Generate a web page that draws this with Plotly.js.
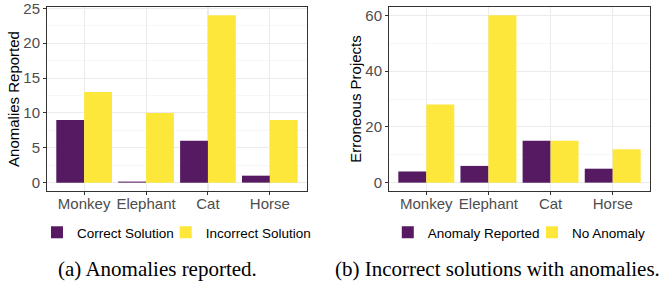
<!DOCTYPE html>
<html><head><meta charset="utf-8">
<script src="https://cdn.plot.ly/plotly-3.0.1.min.js"></script>
<style>html,body{margin:0;padding:0;background:#fff}</style></head>
<body><div id="chart" style="width:662px;height:285px"></div>
<script>
const categories = ['Monkey', 'Elephant', 'Cat', 'Horse'];
// (a) Anomalies reported
const correctSolution = [9, 0.15, 6, 1];
const incorrectSolution = [13, 10, 24, 9];
// (b) Incorrect solutions with anomalies
const anomalyReported = [4, 6, 15, 5];
const noAnomaly = [28, 60, 15, 12];
const leftTickVals = [0, 5, 10, 15, 20, 25];
const rightTickVals = [0, 20, 40, 60];
const captionA = '(a) Anomalies reported.';
const captionB = '(b) Incorrect solutions with anomalies.';

const PURPLE = '#561A62';
const YELLOW = '#FDE73B';
const W = 662, H = 285;
const sans = 'Liberation Sans, Arial, sans-serif';
const serif = 'Liberation Serif, Times New Roman, serif';

function bar(name, y, color, xa, ya, leg) {
  return {type: 'bar', name: name, x: categories, y: y, xaxis: xa, yaxis: ya, showlegend: true,
    marker: {color: color, line: {width: 0}}, legend: leg, hoverinfo: 'skip'};
}
const data = [
  bar('Correct Solution', correctSolution, PURPLE, 'x', 'y', 'legend'),
  bar('Incorrect Solution', incorrectSolution, YELLOW, 'x', 'y', 'legend2'),
  bar('Anomaly Reported', anomalyReported, PURPLE, 'x2', 'y2', 'legend3'),
  bar('No Anomaly', noAnomaly, YELLOW, 'x2', 'y2', 'legend4')
];

const tickFont = {family: sans, size: 15, color: '#4D4D4D'};
const titleFont = {family: sans, size: 15, color: '#000000'};
function xax(dom, anchor) {
  return {domain: dom, anchor: anchor, type: 'category', range: [-0.6, 3.6], showline: true, mirror: true,
    linecolor: '#333333', linewidth: 1, ticks: 'outside', ticklen: 3, tickcolor: '#333333',
    showgrid: true, gridcolor: '#EBEBEB', gridwidth: 1.1, tickfont: tickFont, fixedrange: true,
    ticklabelstandoff: -4, automargin: false};
}
function yax(dom, anchor, range, vals, minorStep, title, standoff) {
  return {domain: dom, anchor: anchor, range: range, tickvals: vals, showline: true, mirror: true,
    linecolor: '#333333', linewidth: 1, ticks: 'outside', ticklen: 3, tickcolor: '#333333',
    showgrid: true, gridcolor: '#EBEBEB', gridwidth: 1.1, zeroline: false, tickfont: tickFont,
    ticklabeloverflow: 'allow',
    minor: {dtick: minorStep, tick0: 0, showgrid: true, gridcolor: '#F2F2F2', gridwidth: 0.6, ticks: ''},
    title: {text: title, font: titleFont, standoff: standoff}, fixedrange: true, automargin: false};
}
function leg(symbolCenterX) {
  return {visible: true, orientation: 'h', x: (symbolCenterX - 23) / W, xanchor: 'left', y: (H - 232.5) / H, yanchor: 'middle',
    font: {family: sans, size: 13.5, color: '#000000'}, bgcolor: 'rgba(0,0,0,0)'};
}
const yDom = [94 / H, 278 / H];
const layout = {
  width: W, height: H, margin: {l: 0, r: 0, t: 0, b: 0},
  paper_bgcolor: '#ffffff', plot_bgcolor: '#ffffff', showlegend: true,
  barmode: 'group', bargap: 0.1, bargroupgap: 0,
  xaxis: xax([47 / W, 307 / W], 'y'),
  yaxis: yax(yDom, 'x', [-1.2, 25.2], leftTickVals, 2.5, 'Anomalies Reported', 0),
  xaxis2: xax([389 / W, 650 / W], 'y2'),
  yaxis2: yax(yDom, 'x2', [-3, 63], rightTickVals, 10, 'Erroneous Projects', 0),
  legend: leg(60),
  legend2: leg(188.7),
  legend3: leg(410.8),
  legend4: leg(555),
  annotations: [
    {text: captionA, xref: 'paper', yref: 'paper', x: 157 / W, y: (H - 269) / H,
      xanchor: 'center', yanchor: 'middle', showarrow: false,
      font: {family: serif, size: 21, color: '#000000'}},
    {text: captionB, xref: 'paper', yref: 'paper', x: 497 / W, y: (H - 269) / H,
      xanchor: 'center', yanchor: 'middle', showarrow: false,
      font: {family: serif, size: 21, color: '#000000'}}
  ]
};
Plotly.newPlot('chart', data, layout, {displayModeBar: false, staticPlot: true});
</script></body></html>
